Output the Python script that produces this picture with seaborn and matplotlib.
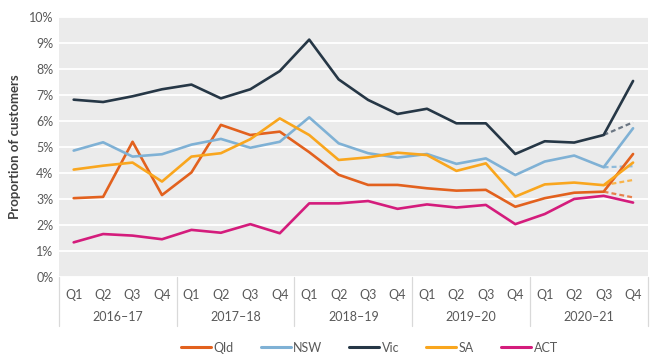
import matplotlib.pyplot as plt
import matplotlib.transforms as mtransforms
from matplotlib.lines import Line2D
import numpy as np
import pandas as pd
import seaborn as sns

years = ["2016–17", "2017–18", "2018–19", "2019–20", "2020–21"]
quarters = ["Q1", "Q2", "Q3", "Q4"]

qld = [3.03, 3.08, 5.20, 3.15, 4.02, 5.85, 5.46, 5.59, 4.80, 3.93, 3.54, 3.54,
       3.41, 3.32, 3.35, 2.70, 3.03, 3.24, 3.28, 4.73]
nsw = [4.86, 5.18, 4.63, 4.72, 5.09, 5.31, 4.97, 5.20, 6.14, 5.14, 4.76, 4.59,
       4.73, 4.35, 4.56, 3.92, 4.44, 4.67, 4.22, 5.72]
vic = [6.82, 6.73, 6.95, 7.22, 7.40, 6.87, 7.22, 7.92, 9.13, 7.60, 6.81, 6.27,
       6.47, 5.91, 5.91, 4.73, 5.22, 5.17, 5.46, 7.54]
sa = [4.13, 4.28, 4.40, 3.67, 4.63, 4.76, 5.30, 6.10, 5.46, 4.50, 4.60, 4.78,
      4.69, 4.08, 4.37, 3.09, 3.56, 3.63, 3.53, 4.40]
act = [1.33, 1.65, 1.59, 1.45, 1.81, 1.70, 2.03, 1.68, 2.83, 2.83, 2.92, 2.62,
       2.79, 2.67, 2.77, 2.03, 2.42, 3.00, 3.12, 2.86]

# projected Q4 2020-21 values (dashed)
proj = {"Vic": 5.95, "NSW": 4.26, "SA": 3.73, "Qld": 3.06}

states = ["Qld", "NSW", "Vic", "SA", "ACT"]
colors = {"Qld": "#e2611e", "NSW": "#7fb1d5", "Vic": "#263746",
          "SA": "#f9a61e", "ACT": "#d41c7c"}
dash_colors = {"Qld": "#e8804c", "NSW": "#8fbbdb", "Vic": "#6c7784", "SA": "#f9b44a"}

periods = [f"{y} {q}" for y in years for q in quarters]
series = {"Qld": qld, "NSW": nsw, "Vic": vic, "SA": sa, "ACT": act}
df = pd.concat([pd.DataFrame({"period": periods, "value": v, "state": s})
                for s, v in series.items()], ignore_index=True)

sns.set_style("white")
plt.rcParams["font.family"] = ["Lato", "DejaVu Sans"]

fig = plt.figure(figsize=(6.55, 3.62), dpi=100)
ax = fig.add_axes([0.090, 0.235, 0.899, 0.718])
ax.set_facecolor("#ebebeb")

sns.lineplot(data=df, x="period", y="value", hue="state", hue_order=states,
             palette=colors, sort=False, linewidth=1.9, legend=False, ax=ax)

for s, v in proj.items():
    ax.plot([periods[-2], periods[-1]], [series[s][-2], v], color=dash_colors[s],
            linestyle=(0, (2.2, 1.4)), linewidth=1.6, zorder=1)

ax.set_ylim(0, 10)
ax.set_xlim(-0.5, len(periods) - 0.5)
ax.set_yticks(np.arange(0, 11, 1))
ax.set_yticklabels([f"{i}%" for i in range(11)])
ax.yaxis.grid(True, color="white", linewidth=1.3)
ax.set_axisbelow(True)
for sp in ax.spines.values():
    sp.set_visible(False)
ax.tick_params(axis="y", length=0, pad=4, labelsize=9, labelcolor="#595959")
ax.tick_params(axis="x", length=0, pad=9, labelsize=9, labelcolor="#595959")
ax.set_xticks(range(len(periods)))
ax.set_xticklabels(quarters * len(years))
ax.set_xlabel("")
ax.set_ylabel("Proportion of customers", fontsize=9.5, fontweight="bold",
              color="#404040", labelpad=6)

trans = mtransforms.blended_transform_factory(ax.transData, ax.transAxes)
for i, y in enumerate(years):
    ax.text(i * 4 + 1.5, -0.155, y, transform=trans, ha="center", va="center",
            fontsize=9, color="#595959")
for b in range(len(years) + 1):
    ax.add_line(Line2D([b * 4 - 0.5, b * 4 - 0.5], [0, -0.19], transform=trans,
                       color="#d9d9d9", linewidth=0.9, clip_on=False))

handles = [Line2D([], [], color=colors[s], linewidth=2.2) for s in states]
fig.legend(handles, states, loc="center", bbox_to_anchor=(0.564, 0.04), ncol=5,
           frameon=False, fontsize=9, handlelength=2.4, handletextpad=0.2,
           columnspacing=2.15, labelcolor="#595959")

fig.savefig("out.png", dpi=100)
